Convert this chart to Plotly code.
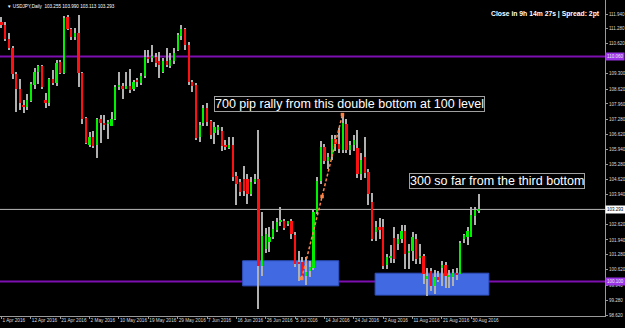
import plotly.graph_objects as go

# ---------------- data ----------------
tick_idx = [0, 8, 16, 24, 32, 40, 48, 56, 64, 72, 80, 88, 96, 104, 112, 120, 128]
tick_dates = ["1 Apr 2016", "12 Apr 2016", "21 Apr 2016", "2 May 2016", "10 May 2016",
              "19 May 2016", "29 May 2016", "7 Jun 2016", "16 Jun 2016", "26 Jun 2016",
              "5 Jul 2016", "14 Jul 2016", "24 Jul 2016", "2 Aug 2016", "11 Aug 2016",
              "21 Aug 2016", "30 Aug 2016"]

opens = [111.59, 111.46, 110.84, 110.44, 109.29, 108.63, 107.93, 107.84, 108.10, 108.81,
         109.38, 109.65, 108.15, 108.02, 109.07, 108.90, 109.82, 109.34, 111.81, 111.28,
         110.93, 111.10, 109.34, 107.35, 106.16, 106.51, 106.16, 107.31, 107.13, 107.09,
         107.00, 107.31, 108.72, 108.76, 108.63, 108.76, 108.63, 109.00, 108.90, 109.21,
         110.05, 110.00, 110.05, 109.87, 109.38, 109.87, 109.65, 109.87, 110.35, 110.97,
         111.28, 110.57, 108.94, 108.81, 106.51, 107.13, 107.80, 107.22, 106.69, 106.82,
         106.75, 106.12, 106.03, 106.16, 104.75, 104.49, 104.62, 104.62, 103.96, 104.49,
         104.62, 100.78, 101.53, 101.84, 102.06, 102.37, 102.77, 102.77, 102.63, 102.77,
         102.15, 100.96, 100.96, 100.34, 100.56, 100.69, 103.17, 104.53, 106.07, 105.45,
         105.60, 106.40, 106.20, 105.94, 107.09, 105.94, 106.16, 106.03, 104.84, 105.60,
         104.97, 103.60, 102.28, 102.50, 102.50, 100.82, 101.18, 102.05, 101.75, 101.97,
         102.32, 101.35, 101.44, 101.97, 101.13, 101.22, 100.20, 100.56, 99.90, 100.30,
         100.69, 100.84, 100.34, 100.30, 100.47, 100.43, 101.97, 102.06, 102.06, 102.99,
         103.255]
highs = [111.80, 111.60, 111.10, 110.53, 109.38, 109.07, 108.15, 108.41, 108.94, 109.56,
         109.69, 109.69, 108.46, 109.10, 109.47, 109.91, 109.91, 111.85, 111.90, 111.30,
         111.30, 111.90, 109.38, 107.40, 106.73, 106.78, 107.35, 107.49, 107.49, 107.27,
         107.62, 108.81, 109.38, 108.90, 109.38, 109.51, 109.03, 109.12, 109.34, 110.35,
         110.35, 110.57, 110.22, 110.26, 110.00, 110.44, 110.22, 110.44, 111.10, 111.46,
         111.33, 110.70, 109.03, 108.90, 107.18, 107.93, 108.00, 107.27, 107.18, 107.04,
         106.95, 106.38, 106.51, 106.51, 104.93, 104.62, 105.20, 104.84, 104.71, 104.84,
         106.82, 103.20, 102.46, 102.50, 102.80, 102.90, 103.39, 102.85, 102.80, 102.85,
         102.28, 101.44, 101.20, 101.18, 101.00, 103.30, 104.71, 106.30, 106.20, 105.80,
         106.60, 106.60, 106.90, 107.49, 107.30, 106.30, 106.60, 106.80, 105.80, 106.50,
         105.10, 104.04, 102.80, 102.90, 102.85, 101.30, 101.70, 102.50, 102.20, 102.60,
         102.60, 101.75, 102.30, 102.20, 101.75, 101.30, 100.70, 100.70, 100.60, 100.56,
         101.00, 100.95, 100.60, 100.65, 100.70, 101.90, 102.19, 102.50, 103.38, 103.40,
         103.990]
lows = [111.30, 110.75, 110.35, 109.07, 107.62, 107.71, 107.58, 107.71, 108.06, 108.63,
        108.85, 108.63, 107.80, 107.89, 108.81, 108.76, 109.30, 109.30, 111.24, 110.79,
        110.80, 108.72, 107.09, 106.20, 106.07, 106.03, 105.55, 106.25, 106.82, 106.42,
        107.00, 107.27, 108.59, 108.20, 108.63, 108.46, 108.55, 108.72, 108.81, 109.12,
        109.78, 109.82, 109.60, 109.12, 109.34, 109.60, 109.56, 109.74, 110.31, 110.79,
        110.35, 108.81, 108.50, 106.38, 106.29, 107.00, 107.00, 106.42, 106.20, 106.60,
        105.90, 105.94, 105.98, 104.53, 103.50, 103.87, 103.90, 103.52, 103.87, 104.40,
        98.88, 100.34, 101.35, 101.40, 101.97, 102.28, 102.55, 102.40, 102.55, 101.97,
        100.74, 100.12, 100.21, 99.94, 100.30, 100.60, 103.08, 104.40, 105.30, 105.10,
        105.50, 105.90, 105.80, 105.80, 105.80, 105.70, 105.90, 104.70, 104.60, 104.70,
        103.50, 101.90, 101.90, 102.00, 100.65, 100.65, 100.90, 100.90, 101.50, 101.80,
        100.65, 100.65, 101.00, 100.87, 100.87, 100.00, 99.47, 99.69, 99.55, 100.10,
        99.90, 99.80, 99.80, 99.90, 100.15, 100.43, 101.79, 101.70, 102.06, 102.60,
        103.113]
closes = [111.46, 110.84, 110.44, 109.29, 108.63, 108.02, 107.84, 108.15, 108.85, 109.38,
          109.65, 108.72, 108.02, 109.07, 108.90, 109.78, 109.34, 111.77, 111.28, 110.93,
          111.10, 109.34, 107.31, 106.25, 106.51, 106.12, 107.31, 107.13, 107.04, 107.11,
          107.31, 108.72, 108.81, 108.63, 108.76, 108.59, 108.94, 108.94, 109.21, 110.05,
          109.98, 110.05, 109.78, 109.69, 109.87, 109.69, 109.91, 110.22, 111.02, 111.28,
          110.57, 108.94, 108.76, 106.47, 107.04, 107.80, 107.18, 106.60, 106.95, 106.95,
          106.12, 106.07, 106.16, 104.71, 104.40, 104.06, 104.10, 103.96, 104.49, 104.62,
          100.78, 102.10, 102.19, 102.06, 102.41, 102.72, 102.77, 102.46, 102.77, 102.19,
          100.87, 100.87, 100.34, 100.52, 100.74, 103.17, 104.53, 106.07, 105.45, 105.60,
          106.40, 106.20, 105.95, 107.13, 105.94, 106.16, 106.38, 104.84, 105.50, 104.90,
          103.96, 101.97, 102.50, 102.40, 100.78, 101.18, 101.20, 101.09, 101.97, 102.32,
          101.31, 101.44, 102.06, 101.09, 101.22, 100.43, 100.35, 99.90, 100.30, 100.17,
          100.84, 100.34, 100.40, 100.47, 100.43, 101.79, 102.15, 102.32, 103.03, 103.25,
          103.293]

price_ticks = [98.62, 99.28, 99.94, 100.62, 101.28, 101.94, 102.62, 103.94, 104.62, 105.28,
               105.94, 106.62, 107.28, 107.96, 108.62, 109.30, 110.62, 111.28, 111.94]

level_lines = [110.06, 100.10]
level_text = ["110.060", "100.100"]
bid_price = 103.293

zone1_x = [65.7, 91.9]
zone1_y = [99.91, 101.02]
zone2_x = [101.8, 132.8]
zone2_y = [99.50, 100.47]

trend_x = [81.8, 87.35, 92.9]
trend_y = [100.24, 103.865, 107.49]

note1_pos = (57.8, 107.97)
note2_pos = (111.0, 104.57)

# ---------------- figure ----------------
idx = list(range(len(opens)))
GREEN = "#00f000"
RED = "#ff1010"
WICK = "#b0b0b0"
AXIS = "#9a9a9a"
TREND = "#ff8448"
FONT = "Liberation Sans, Arial, sans-serif"

wick_base = lows
wick_len = [h - l for h, l in zip(highs, lows)]
bases = [min(o, c) for o, c in zip(opens, closes)]
heights = [max(abs(c - o), 0.035) for o, c in zip(opens, closes)]
colors = [GREEN if c >= o else RED for o, c in zip(opens, closes)]

fig = go.Figure()
fig.add_trace(go.Bar(x=idx, y=wick_len, base=wick_base, width=0.28,
                     marker=dict(color=WICK, line=dict(width=0)), hoverinfo="skip"))
fig.add_trace(go.Bar(x=idx, y=heights, base=bases, width=0.62,
                     marker=dict(color=colors, line=dict(width=0))))
fig.add_trace(go.Scatter(x=[trend_x[0], trend_x[-1]], y=[trend_y[0], trend_y[-1]],
                         mode="lines", line=dict(color=TREND, width=1.5, dash="3px,2px"),
                         hoverinfo="skip"))
fig.add_trace(go.Scatter(x=trend_x, y=trend_y, mode="markers",
                         marker=dict(color=TREND, size=3.5, symbol="square"),
                         hoverinfo="skip"))

shapes = []
for xs, ys in ((zone1_x, zone1_y), (zone2_x, zone2_y)):
    shapes.append(dict(type="rect", xref="x", yref="y", x0=xs[0], x1=xs[1], y0=ys[0], y1=ys[1],
                       fillcolor="#4169e1", line=dict(color="#2f4fc0", width=1), layer="below"))
for lv in level_lines:
    shapes.append(dict(type="line", xref="paper", yref="y", x0=0, x1=1, y0=lv, y1=lv,
                       line=dict(color="#7d0fb0", width=2), layer="below"))
shapes.append(dict(type="line", xref="paper", yref="y", x0=0, x1=1, y0=bid_price, y1=bid_price,
                   line=dict(color="#b8b8b8", width=1), layer="below"))

annotations = []
for lv, txt in zip(level_lines, level_text):
    annotations.append(dict(xref="paper", yref="y", x=1.0, y=lv, xanchor="left", yanchor="middle",
                            text=txt, showarrow=False, bgcolor="#9a34e6",
                            font=dict(size=4.5, color="#eeeeee", family=FONT), borderpad=1))
annotations.append(dict(xref="paper", yref="y", x=1.0, y=bid_price, xanchor="left",
                        yanchor="middle", text=f"{bid_price:.3f}", showarrow=False,
                        bgcolor="#ffffff", font=dict(size=4.5, color="#000000", family=FONT),
                        borderpad=1))
annotations.append(dict(xref="x", yref="y", x=note1_pos[0], y=note1_pos[1], xanchor="left",
                        yanchor="middle", showarrow=False,
                        text="700 pip rally from this double bottom at 100 level",
                        font=dict(size=12.5, color="#ffffff", family=FONT),
                        bordercolor="#a0a0a0", borderwidth=1, borderpad=0, bgcolor="#000000"))
annotations.append(dict(xref="x", yref="y", x=note2_pos[0], y=note2_pos[1], xanchor="left",
                        yanchor="middle", showarrow=False,
                        text="300 so far from the third bottom",
                        font=dict(size=12.5, color="#ffffff", family=FONT),
                        bordercolor="#a0a0a0", borderwidth=1, borderpad=0, bgcolor="#000000"))
annotations.append(dict(xref="paper", yref="paper", x=0.008, y=0.995, xanchor="left",
                        yanchor="top", showarrow=False,
                        text="▼ USDJPY,Daily  103.255 103.990 103.113 103.293",
                        font=dict(size=4.6, color="#ffffff", family=FONT)))
annotations.append(dict(xref="paper", yref="paper", x=0.995, y=0.975, xanchor="right",
                        yanchor="top", showarrow=False,
                        text="<b>Close in 9h 14m 27s | Spread: 2pt</b>",
                        font=dict(size=6.8, color="#ffffff", family=FONT)))

fig.update_layout(
    width=625, height=328,
    margin=dict(l=0, r=20, t=0, b=12),
    paper_bgcolor="#000000", plot_bgcolor="#000000",
    showlegend=False, barmode="overlay",
    shapes=shapes, annotations=annotations,
    xaxis=dict(range=[-0.41, 164.44], tickmode="array", tickvals=tick_idx, ticktext=tick_dates,
               ticks="outside", ticklen=2, tickcolor=AXIS, showgrid=False, zeroline=False,
               showline=True, linecolor=AXIS, mirror=True, automargin=False, tickangle=0,
               ticklabelposition="outside right", ticklabelstandoff=-1,
               tickfont=dict(size=4.7, color="#dddddd", family=FONT)),
    yaxis=dict(range=[98.576, 112.56], side="right", tickmode="array", tickvals=price_ticks,
               ticktext=[f"{v:.3f}" for v in price_ticks],
               ticks="outside", ticklen=2, tickcolor=AXIS, showgrid=False, zeroline=False,
               showline=True, linecolor=AXIS, mirror=True, automargin=False,
               tickfont=dict(size=4.5, color="#dddddd", family=FONT)),
    bargap=0,
)

fig.write_html("out.html")
